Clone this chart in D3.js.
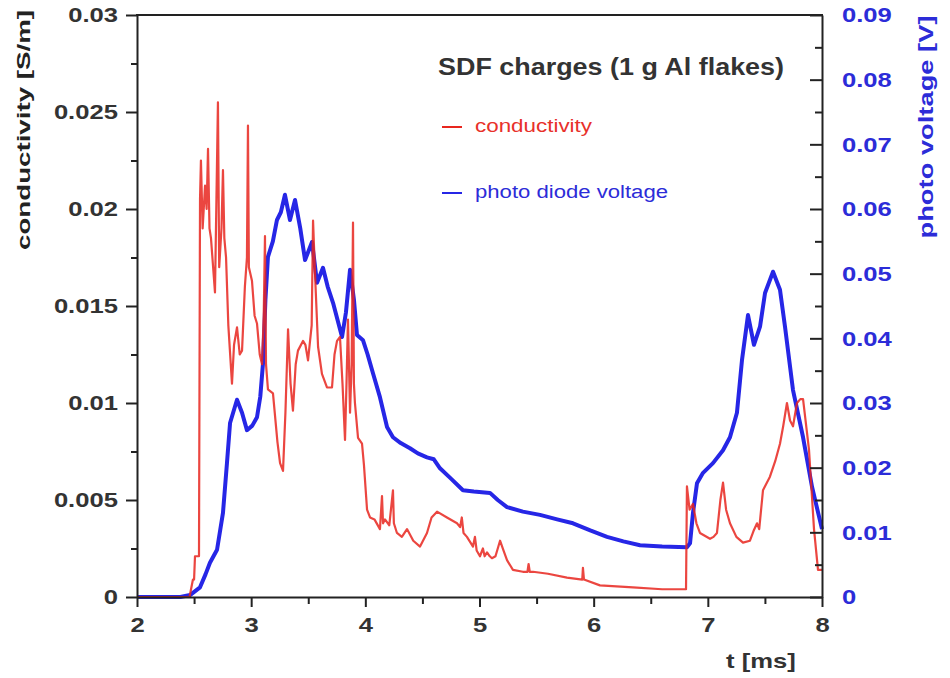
<!DOCTYPE html>
<html><head><meta charset="utf-8">
<script src="https://cdn.jsdelivr.net/npm/d3@7/dist/d3.min.js"></script>
<style>body{margin:0;background:#fff}svg{display:block}</style>
</head><body>
<svg id="c" width="950" height="678"></svg>
<script>
// ---- data ----
const condTime = [2.0,2.46,2.49,2.5,2.508,2.543,2.552,2.56,2.575,2.596,2.61,2.622,2.635,2.648,2.683,2.709,2.72,2.74,2.753,2.765,2.78,2.80,2.832,2.85,2.876,2.90,2.920,2.945,2.963,2.972,2.98,3.007,3.03,3.051,3.075,3.095,3.11,3.121,3.13,3.147,3.191,3.23,3.253,3.279,3.30,3.323,3.345,3.366,3.39,3.410,3.454,3.475,3.498,3.53,3.542,3.559,3.586,3.62,3.664,3.708,3.73,3.752,3.778,3.80,3.822,3.835,3.848,3.866,3.88,3.892,3.90,3.909,3.936,3.971,3.988,4.015,4.041,4.08,4.128,4.146,4.155,4.172,4.21,4.242,4.25,4.277,4.32,4.365,4.42,4.479,4.540,4.58,4.628,4.715,4.803,4.83,4.845,4.86,4.890,4.943,4.96,4.975,5.004,5.03,5.045,5.066,5.09,5.109,5.14,5.180,5.21,5.241,5.293,5.38,5.42,5.43,5.44,5.469,5.6,5.766,5.90,5.906,5.915,6.055,6.344,6.6,6.809,6.817,6.84,6.870,6.90,6.931,7.019,7.05,7.080,7.11,7.133,7.16,7.194,7.25,7.308,7.369,7.40,7.431,7.45,7.483,7.544,7.59,7.632,7.66,7.693,7.72,7.746,7.781,7.81,7.834,7.886,7.930,7.965,8.0];
const conductivity = [0,0,0.0009,0.0009,0.0021,0.0021,0.0205,0.0225,0.019,0.0212,0.020,0.0231,0.019,0.0185,0.0157,0.0255,0.017,0.019,0.0220,0.0185,0.0175,0.014,0.0110,0.013,0.0139,0.0125,0.0127,0.016,0.0175,0.0243,0.017,0.0163,0.0145,0.0141,0.0125,0.0120,0.0145,0.0186,0.012,0.0107,0.0105,0.0080,0.0069,0.0065,0.0095,0.0138,0.011,0.0096,0.012,0.0127,0.0132,0.013,0.0122,0.014,0.0194,0.0167,0.0129,0.0115,0.0108,0.0108,0.0125,0.0132,0.0134,0.011,0.0081,0.011,0.0143,0.0095,0.012,0.0193,0.011,0.0100,0.0082,0.0079,0.0068,0.0045,0.0041,0.0040,0.0035,0.0052,0.0038,0.0040,0.0037,0.0055,0.0038,0.0033,0.0031,0.0035,0.0029,0.0026,0.0033,0.0041,0.0044,0.0041,0.0038,0.0036,0.0041,0.0033,0.0031,0.0026,0.0031,0.0024,0.0021,0.0025,0.0021,0.0023,0.0021,0.0020,0.0021,0.0029,0.0024,0.0019,0.0014,0.0013,0.0013,0.0017,0.0013,0.0013,0.0012,0.0010,0.0009,0.0015,0.0009,0.0006,0.0005,0.0004,0.0004,0.0057,0.0045,0.0048,0.0038,0.0033,0.0030,0.0031,0.0033,0.0050,0.0059,0.0045,0.0038,0.0031,0.0028,0.0029,0.0034,0.0038,0.0035,0.0055,0.0062,0.0070,0.0079,0.0088,0.0100,0.0091,0.0088,0.0100,0.0102,0.0102,0.0076,0.0035,0.0014,0.0014];

const photoTime = [2.0,2.38,2.464,2.552,2.60,2.639,2.701,2.753,2.788,2.815,2.876,2.92,2.963,3.01,3.051,3.08,3.104,3.125,3.147,3.19,3.226,3.26,3.296,3.340,3.384,3.43,3.472,3.533,3.577,3.629,3.67,3.717,3.796,3.83,3.866,3.90,3.927,3.980,4.02,4.067,4.128,4.190,4.242,4.31,4.391,4.46,4.540,4.60,4.654,4.75,4.855,4.95,5.092,5.16,5.241,5.38,5.530,5.68,5.819,5.97,6.117,6.26,6.406,6.6,6.817,6.844,6.87,6.905,6.958,7.045,7.133,7.194,7.255,7.299,7.352,7.404,7.457,7.501,7.571,7.632,7.676,7.746,7.834,7.913,8.0];
const photoVoltage = [0,0,0.0003,0.0015,0.0035,0.0053,0.0073,0.0130,0.0207,0.0269,0.0305,0.0285,0.0258,0.0265,0.0278,0.031,0.0362,0.046,0.0526,0.055,0.0583,0.0595,0.0622,0.0583,0.0614,0.057,0.0521,0.0549,0.0486,0.0509,0.048,0.0455,0.0402,0.044,0.0506,0.046,0.0405,0.0397,0.0375,0.0346,0.0309,0.0263,0.0247,0.0238,0.0230,0.0222,0.0216,0.0213,0.0199,0.0183,0.0165,0.0163,0.0161,0.0150,0.0139,0.0132,0.0127,0.0120,0.0114,0.0103,0.0093,0.0086,0.0080,0.0078,0.0077,0.0083,0.0130,0.0176,0.0192,0.0207,0.0227,0.0247,0.0285,0.0366,0.0436,0.0390,0.0418,0.0470,0.0503,0.0475,0.0418,0.0320,0.0247,0.0170,0.0105];

const xTicks = [2,3,4,5,6,7,8];
const xMinor = [2.5,3.5,4.5,5.5,6.5,7.5];
const leftTicks = [0,0.005,0.01,0.015,0.02,0.025,0.03];
const leftTickLabels = ["0","0.005","0.01","0.015","0.02","0.025","0.03"];
const leftMinor = [0.0025,0.0075,0.0125,0.0175,0.0225,0.0275];
const rightTicks = [0,0.01,0.02,0.03,0.04,0.05,0.06,0.07,0.08,0.09];
const rightTickLabels = ["0","0.01","0.02","0.03","0.04","0.05","0.06","0.07","0.08","0.09"];
const rightMinor = [0.005,0.015,0.025,0.035,0.045,0.055,0.065,0.075,0.085];
const titleText = "SDF charges (1 g Al flakes)";
const legendNames = ["conductivity","photo diode voltage"];
const xLabel = "t [ms]";
const yLeftLabel = "conductivity [S/m]";
const yRightLabel = "photo voltage [V]";

// ---- layout ----
const L = 137, R = 822, T = 15, B = 597;
const RED = "#e8261e", BLUE = "#2626e6", AXIS = "#222", TXT = "#333", BLUETXT = "#2c2cd8";
const FONT = "'Liberation Sans', Arial, sans-serif";
const svg = d3.select("#c");

const x = d3.scaleLinear().domain([2,8]).range([L,R]);
const yL = d3.scaleLinear().domain([0,0.03]).range([B,T]);
const yR = d3.scaleLinear().domain([0,0.09]).range([B,T]);

// lines
const condData = condTime.map((t,i)=>[t,conductivity[i]]);
const photoData = photoTime.map((t,i)=>[t,photoVoltage[i]]);
svg.append("path").datum(photoData)
  .attr("fill","none").attr("stroke",BLUE).attr("stroke-width",4)
  .attr("stroke-linejoin","round")
  .attr("d", d3.line().x(d=>x(d[0])).y(d=>yR(d[1])));
svg.append("path").datum(condData)
  .attr("fill","none").attr("stroke",RED).attr("stroke-width",2.2).attr("stroke-opacity",0.85)
  .attr("stroke-linejoin","round")
  .attr("d", d3.line().x(d=>x(d[0])).y(d=>yL(d[1])));

// axes
function styleAxis(g){
  g.selectAll("path,line").attr("stroke",AXIS).attr("stroke-width",2);
  g.selectAll("text").attr("font-family",FONT).attr("font-weight","bold").attr("font-size",21);
}
const gL = svg.append("g").attr("transform",`translate(${L},0)`)
  .call(d3.axisLeft(yL).tickValues(leftTicks).tickFormat((d,i)=>leftTickLabels[i]).tickSize(11).tickSizeOuter(0).tickPadding(8));
styleAxis(gL); gL.selectAll("text").attr("fill",TXT).classed("st",true);
const gLm = svg.append("g").attr("transform",`translate(${L},0)`)
  .call(d3.axisLeft(yL).tickValues(leftMinor).tickFormat("").tickSize(6).tickSizeOuter(0));
styleAxis(gLm); gLm.select(".domain").remove();

const gB = svg.append("g").attr("transform",`translate(0,${B})`)
  .call(d3.axisBottom(x).tickValues(xTicks).tickFormat(d3.format("d")).tickSize(10).tickSizeOuter(0).tickPadding(10));
styleAxis(gB); gB.selectAll("text").attr("fill",TXT).classed("st",true);
const gBm = svg.append("g").attr("transform",`translate(0,${B})`)
  .call(d3.axisBottom(x).tickValues(xMinor).tickFormat("").tickSize(7).tickSizeOuter(0));
styleAxis(gBm); gBm.select(".domain").remove();

const gR = svg.append("g").attr("transform",`translate(${R},0)`)
  .call(d3.axisRight(yR).tickValues(rightTicks).tickFormat((d,i)=>rightTickLabels[i]).tickSize(-12).tickSizeOuter(0).tickPadding(20));
styleAxis(gR); gR.selectAll("text").attr("fill",BLUETXT).classed("st",true);
const gRm = svg.append("g").attr("transform",`translate(${R},0)`)
  .call(d3.axisRight(yR).tickValues(rightMinor).tickFormat("").tickSize(-7).tickSizeOuter(0));
styleAxis(gRm); gRm.select(".domain").remove();

svg.append("line").attr("x1",L-1).attr("x2",R+1).attr("y1",T).attr("y2",T)
  .attr("stroke",AXIS).attr("stroke-width",2);

// axis titles
svg.append("text").attr("x",761).attr("y",668).attr("text-anchor","middle")
  .attr("font-family",FONT).attr("font-weight","bold").attr("font-size",21).attr("fill",TXT)
  .classed("st",true).text(xLabel);
svg.append("text").attr("transform","translate(30,130) rotate(-90)").attr("text-anchor","middle")
  .attr("font-family",FONT).attr("font-weight","bold").attr("font-size",19).attr("fill","#222")
  .attr("data-len",240).text(yLeftLabel);
svg.append("text").attr("transform","translate(933,127) rotate(-90)").attr("text-anchor","middle")
  .attr("font-family",FONT).attr("font-weight","bold").attr("font-size",20).attr("fill",BLUETXT)
  .attr("data-len",223).text(yRightLabel);

// title and legend
svg.append("text").attr("x",438).attr("y",75)
  .attr("font-family",FONT).attr("font-weight","bold").attr("font-size",23).attr("fill",TXT)
  .attr("data-len",346).text(titleText);
const legColors = [RED, BLUE], legY = [127,193], legTxt = ["#e8302a","#2c2cd8"];
legendNames.forEach((n,i)=>{
  svg.append("line").attr("x1",442).attr("x2",462).attr("y1",legY[i]).attr("y2",legY[i])
    .attr("stroke",legColors[i]).attr("stroke-width",2);
  svg.append("text").attr("x",475).attr("y",legY[i]+5)
    .attr("font-family",FONT).attr("font-size",18).attr("fill",legTxt[i])
    .attr("data-len", i===0?117:193).text(n);
});

// horizontal stretch to match the reference's wide glyphs
svg.selectAll("text").each(function(){
  const el = d3.select(this);
  const len = this.getComputedTextLength();
  if (!len) return;
  const target = el.attr("data-len") ? +el.attr("data-len") : (el.classed("st") ? len*1.22 : null);
  if (target) el.attr("textLength", target).attr("lengthAdjust","spacingAndGlyphs");
});
</script>
</body></html>
